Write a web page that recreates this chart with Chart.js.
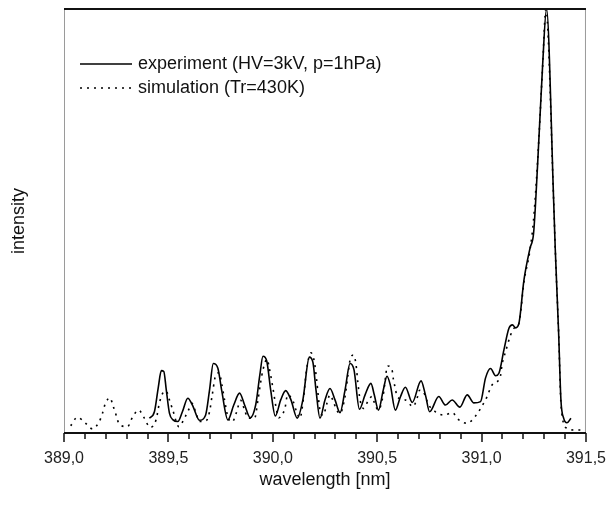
<!DOCTYPE html>
<html>
<head>
<meta charset="utf-8">
<script src="https://cdn.jsdelivr.net/npm/chart.js@4.4.1/dist/chart.umd.min.js"></script>
<style>
  html, body { margin: 0; padding: 0; background: #fff; }
  #wrap { width: 606px; height: 505px; }
</style>
</head>
<body>
<div id="wrap"><canvas id="line-chart" width="606" height="505"></canvas></div>
<script>
// experiment (HV=3kV, p=1hPa)
var expWl = [389.409, 389.433, 389.452, 389.466, 389.478, 389.490, 389.505, 389.522, 389.545, 389.567,
    389.593, 389.615, 389.649, 389.678, 389.697, 389.715, 389.737, 389.755, 389.785, 389.813,
    389.841, 389.865, 389.892, 389.918, 389.938, 389.953, 389.971, 389.990, 390.012, 390.038,
    390.062, 390.087, 390.117, 390.144, 390.175, 390.192, 390.207, 390.226, 390.250, 390.274,
    390.298, 390.322, 390.346, 390.370, 390.389, 390.415, 390.442, 390.470, 390.486, 390.506,
    390.529, 390.547, 390.563, 390.587, 390.611, 390.635, 390.668, 390.710, 390.731, 390.751,
    390.795, 390.827, 390.859, 390.896, 390.931, 390.963, 390.995, 391.019, 391.043, 391.067,
    391.083, 391.107, 391.131, 391.148, 391.163, 391.179, 391.203, 391.232, 391.249, 391.268,
    391.292, 391.311, 391.345, 391.353, 391.369, 391.380, 391.393, 391.409, 391.428];
var expInt = [3.5, 5.0, 10.9, 14.7, 14.5, 10.1, 4.7, 3.1, 2.7, 5.0,
    8.2, 6.6, 3.0, 4.2, 10.1, 16.4, 15.3, 10.1, 3.1, 6.6,
    9.4, 6.6, 3.6, 6.6, 13.7, 18.1, 17.0, 10.1, 4.0, 7.8,
    10.0, 7.8, 3.5, 7.8, 17.9, 16.7, 10.1, 3.5, 7.8, 10.5,
    7.8, 4.8, 10.1, 16.4, 14.9, 5.6, 9.0, 11.7, 9.0, 5.4,
    10.1, 13.4, 11.3, 5.4, 8.5, 10.8, 7.2, 12.3, 9.0, 5.0,
    8.6, 6.6, 7.8, 6.1, 9.0, 7.1, 7.4, 13.0, 15.2, 13.5,
    14.1, 19.6, 24.7, 25.5, 24.8, 25.9, 36.1, 43.6, 47.1, 63.0,
    86.4, 100, 55.0, 43.2, 23.6, 7.8, 3.5, 2.4, 3.5];

// simulation (Tr=430K)
var simWl = [389.032, 389.064, 389.101, 389.136, 389.168, 389.184, 389.197, 389.220, 389.237, 389.251,
    389.264, 389.304, 389.328, 389.357, 389.385, 389.412, 389.441, 389.457, 389.473, 389.489,
    389.505, 389.521, 389.550, 389.577, 389.596, 389.614, 389.630, 389.649, 389.681, 389.697,
    389.710, 389.727, 389.743, 389.755, 389.769, 389.785, 389.806, 389.825, 389.846, 389.865,
    389.881, 389.913, 389.929, 389.941, 389.953, 389.973, 389.982, 390.001, 390.018, 390.029,
    390.058, 390.071, 390.098, 390.114, 390.130, 390.146, 390.162, 390.183, 390.199, 390.210,
    390.226, 390.242, 390.258, 390.274, 390.290, 390.306, 390.322, 390.346, 390.359, 390.370,
    390.386, 390.398, 390.407, 390.418, 390.434, 390.455, 390.475, 390.490, 390.506, 390.529,
    390.550, 390.571, 390.578, 390.587, 390.595, 390.635, 390.672, 390.691, 390.703, 390.721,
    390.747, 390.779, 390.819, 390.859, 390.891, 390.931, 390.971, 390.999, 391.019, 391.056,
    391.088, 391.099, 391.115, 391.139, 391.155, 391.179, 391.203, 391.232, 391.248, 391.268,
    391.292, 391.308, 391.345, 391.353, 391.369, 391.381, 391.409, 391.448, 391.488];
var simInt = [1.7, 3.7, 2.4, 1.0, 2.6, 4.6, 6.8, 8.3, 6.1, 4.0,
    2.1, 1.5, 3.7, 5.4, 3.5, 1.3, 3.1, 7.1, 9.4, 9.9,
    7.8, 5.4, 1.5, 3.5, 5.4, 7.0, 5.0, 2.7, 2.9, 5.0,
    9.0, 13.7, 14.2, 11.7, 7.8, 3.8, 2.6, 4.7, 7.7, 5.4,
    3.5, 3.5, 7.8, 11.7, 14.9, 17.4, 15.6, 10.5, 5.4, 3.6,
    5.8, 9.0, 7.4, 5.0, 3.5, 7.8, 15.0, 18.9, 16.8, 12.5,
    5.4, 4.2, 6.8, 9.0, 7.4, 5.4, 4.6, 8.6, 13.3, 17.2,
    18.4, 16.4, 12.1, 7.8, 5.8, 7.4, 8.6, 6.6, 5.4, 9.0,
    15.8, 14.9, 12.5, 10.5, 8.6, 7.8, 6.2, 8.2, 10.1, 9.7,
    6.6, 5.0, 4.2, 4.8, 3.1, 2.3, 4.0, 6.1, 7.8, 11.7,
    12.9, 16.4, 19.2, 23.1, 24.7, 25.9, 35.6, 43.2, 49.8, 63.9,
    86.1, 99.9, 55.0, 43.2, 23.6, 6.2, 1.1, 0.7, 0.7];

var xMin = 389.0, xMax = 391.5;
var legendLabels = ['experiment (HV=3kV, p=1hPa)', 'simulation (Tr=430K)'];
var FONT = '"Liberation Sans", Arial, sans-serif';

function puntos(xs, ys) {
    var out = [];
    for (var i = 0; i < xs.length; i++) {
        out.push({x: xs[i], y: ys[i]});
    }
    return out;
}

function esMayor(v) {
    return Math.abs(v * 2 - Math.round(v * 2)) < 1e-6;
}

// marco, ticks y leyenda
var marco = {
    id: 'marco',
    afterDraw: function (chart) {
        var ctx = chart.ctx;
        var a = chart.chartArea;
        var xs = chart.scales.x;
        ctx.save();
        ctx.strokeStyle = '#9a9a9a';
        ctx.lineWidth = 1;
        ctx.beginPath();
        ctx.moveTo(a.left + 0.5, a.top);
        ctx.lineTo(a.left + 0.5, a.bottom);
        ctx.moveTo(a.right - 0.5, a.top);
        ctx.lineTo(a.right - 0.5, a.bottom);
        ctx.stroke();

        ctx.strokeStyle = '#111';
        ctx.lineWidth = 2;
        ctx.beginPath();
        ctx.moveTo(a.left, a.top);
        ctx.lineTo(a.right, a.top);
        ctx.moveTo(a.left, a.bottom);
        ctx.lineTo(a.right, a.bottom);
        ctx.stroke();

        ctx.lineWidth = 1.5;
        ctx.beginPath();
        xs.ticks.forEach(function (t) {
            var px = Math.round(xs.getPixelForValue(t.value));
            var len = esMayor(t.value) ? 9 : 6;
            ctx.moveTo(px, a.bottom);
            ctx.lineTo(px, a.bottom + len);
        });
        ctx.stroke();

        // leyenda
        var lx = a.left + 16, ly = a.top + 55;
        ctx.strokeStyle = '#000';
        ctx.lineWidth = 1.6;
        ctx.beginPath();
        ctx.moveTo(lx, ly);
        ctx.lineTo(lx + 52, ly);
        ctx.stroke();
        ctx.setLineDash([2, 5]);
        ctx.beginPath();
        ctx.moveTo(lx, ly + 24);
        ctx.lineTo(lx + 52, ly + 24);
        ctx.stroke();
        ctx.setLineDash([]);
        ctx.fillStyle = '#111';
        ctx.font = '18px ' + FONT;
        ctx.textBaseline = 'middle';
        ctx.fillText(legendLabels[0], lx + 58, ly);
        ctx.fillText(legendLabels[1], lx + 58, ly + 24);
        ctx.restore();
    }
};

new Chart(document.getElementById('line-chart'), {
    type: 'line',
    data: {
        datasets: [{
            label: legendLabels[0],
            data: puntos(expWl, expInt),
            borderColor: '#000',
            borderWidth: 1.6,
            pointRadius: 0,
            cubicInterpolationMode: 'monotone',
            fill: false
        }, {
            label: legendLabels[1],
            data: puntos(simWl, simInt),
            borderColor: '#000',
            borderWidth: 1.6,
            borderDash: [2, 5],
            pointRadius: 0,
            cubicInterpolationMode: 'monotone',
            fill: false
        }]
    },
    options: {
        responsive: false,
        animation: false,
        layout: {padding: {top: 9, right: 0, left: 0, bottom: 0}},
        plugins: {
            legend: {display: false},
            tooltip: {enabled: false}
        },
        scales: {
            x: {
                type: 'linear',
                min: xMin,
                max: xMax,
                grid: {
                    display: true,
                    drawOnChartArea: false,
                    drawTicks: true,
                    tickLength: 16,
                    tickColor: 'rgba(0,0,0,0)'
                },
                border: {display: false},
                ticks: {
                    stepSize: 0.1,
                    autoSkip: false,
                    maxRotation: 0,
                    padding: 0,
                    color: '#222',
                    font: {family: FONT, size: 16},
                    callback: function (v) {
                        return esMayor(v) ? v.toFixed(1).replace('.', ',') : '';
                    }
                },
                title: {
                    display: true,
                    text: 'wavelength [nm]',
                    color: '#111',
                    font: {family: FONT, size: 18},
                    padding: {top: 0, bottom: 14}
                },
                afterFit: function (s) { s.height = 72; }
            },
            y: {
                min: 0,
                max: 100,
                grid: {display: false, drawTicks: false},
                border: {display: false},
                ticks: {display: false},
                title: {
                    display: true,
                    text: 'intensity',
                    color: '#111',
                    font: {family: FONT, size: 18},
                    padding: {top: 8, bottom: 0}
                },
                afterFit: function (s) { s.width = 64; }
            }
        }
    },
    plugins: [marco]
});
</script>
</body>
</html>
